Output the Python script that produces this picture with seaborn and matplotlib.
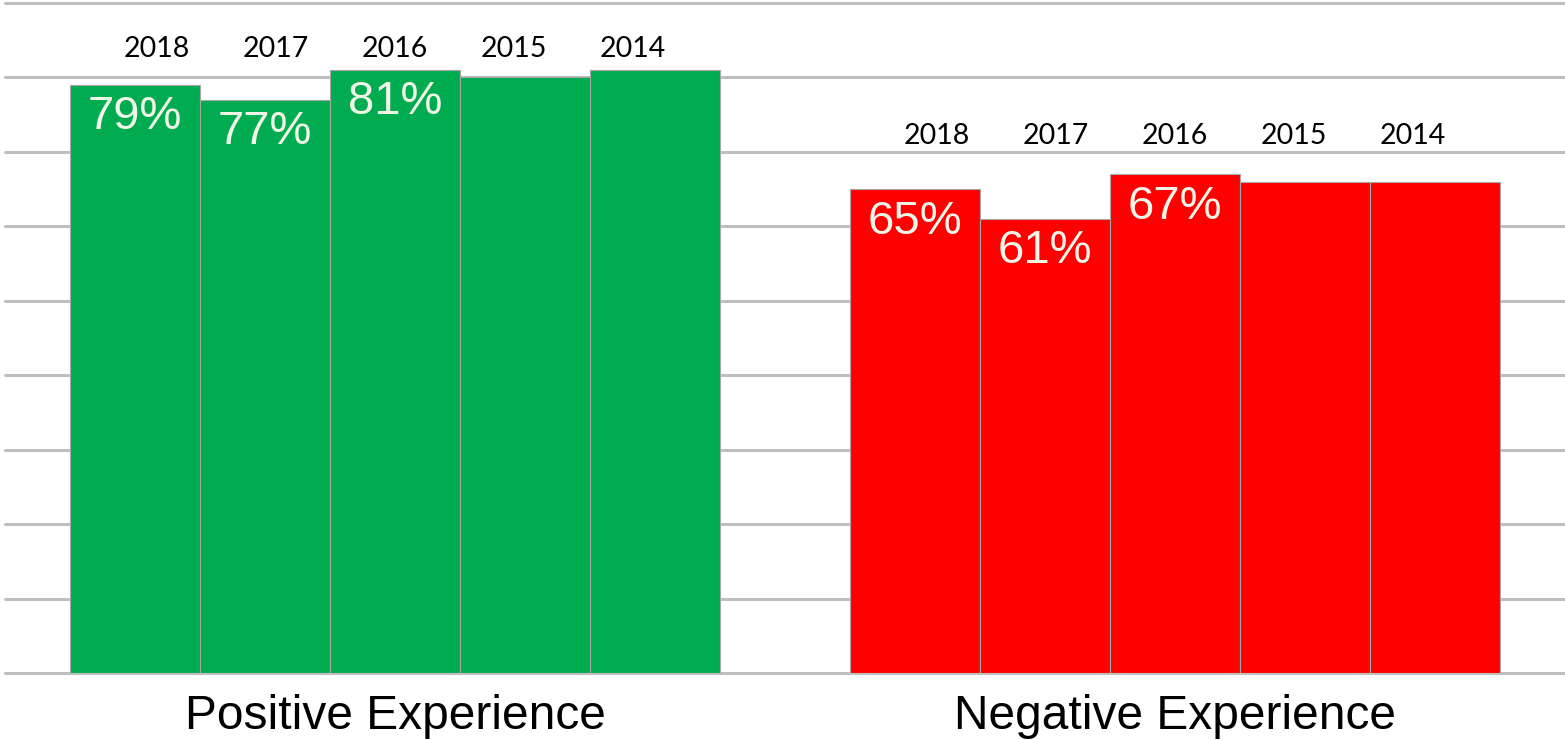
import matplotlib
matplotlib.use("Agg")
import matplotlib.pyplot as plt
import seaborn as sns
import pandas as pd

# Survey results: share of respondents per experience type and year
categories = ["Positive Experience", "Negative Experience"]
years = ["2018", "2017", "2016", "2015", "2014"]
positive = [79, 77, 81, 80, 81]
negative = [65, 61, 67, 66, 66]
labelled_years = ["2018", "2017", "2016"]
category_colors = ["#00ac4f", "#ff0000"]

rows = []
for cat, vals in zip(categories, [positive, negative]):
    for yr, v in zip(years, vals):
        rows.append({"experience": cat, "year": yr, "value": v})
df = pd.DataFrame(rows)

sns.set_theme(style="white")
plt.rcParams["font.family"] = ["Liberation Sans", "DejaVu Sans"]

fig = plt.figure(figsize=(15.65, 7.4), dpi=100)
ax = fig.add_axes([5 / 1565, 67 / 740, 1560 / 1565, 670 / 740])

group_width = 0.833
sns.barplot(
    data=df, x="experience", y="value", hue="year",
    order=categories, hue_order=years,
    width=group_width, dodge=True, saturation=1,
    edgecolor="#a6a6a6", linewidth=0.8,
    legend=False, ax=ax, zorder=2,
)

# colour bars by experience type rather than by year
for container in ax.containers:
    for i, bar in enumerate(container):
        bar.set_facecolor(category_colors[i])

# value labels inside the tops of the most recent three years
for yr, container in zip(years, ax.containers):
    if yr not in labelled_years:
        continue
    for bar in container:
        h = bar.get_height()
        ax.annotate(f"{h:.0f}%", xy=(bar.get_x() + bar.get_width() / 2, h),
                    xytext=(0, -7.5), textcoords="offset points",
                    ha="center", va="top", fontsize=34, color="#f1f5e8",
                    zorder=4)

# year captions above each group
caption_height = [83.8, 72.2]
caption_step = 0.1526
for gi, cat in enumerate(categories):
    for j, yr in enumerate(years):
        ax.text(gi + (j - 2) * caption_step, caption_height[gi], yr,
                ha="center", va="center", fontsize=20.5, color="black",
                family=["Lato", "Open Sans", "DejaVu Sans"])

ax.set_xlim(-0.5, 1.5)
ax.set_ylim(0, 90)
ax.set_yticks(range(0, 91, 10))
ax.set_yticklabels([])
ax.yaxis.grid(True, color="#bfbfbf", linewidth=2.2)
ax.xaxis.grid(False)
ax.set_axisbelow(True)
for line in ax.get_ygridlines():
    line.set_clip_on(False)

ax.set_xlabel("")
ax.set_ylabel("")
ax.tick_params(axis="x", length=0, pad=15, labelsize=34.5, labelcolor="black")
ax.tick_params(axis="y", length=0)
for s in ax.spines.values():
    s.set_visible(False)

fig.savefig("out.png", dpi=100, facecolor="white")
